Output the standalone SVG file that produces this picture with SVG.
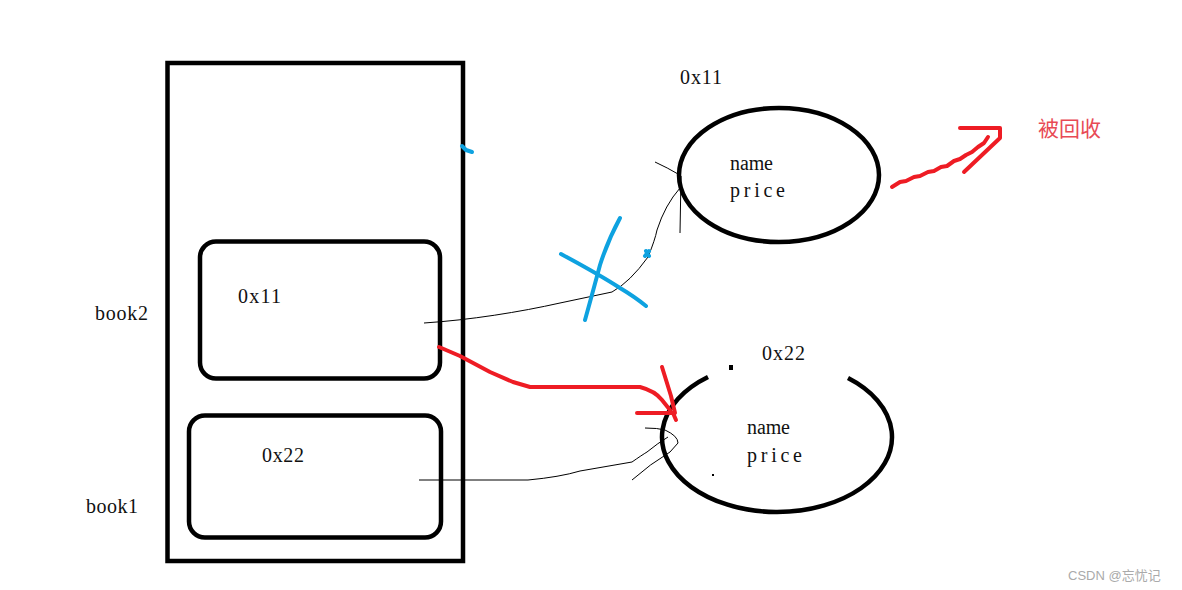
<svg xmlns="http://www.w3.org/2000/svg" width="1182" height="590" viewBox="0 0 1182 590">
<style>
.t{font-family:"Liberation Serif","Noto Sans CJK SC",serif;font-size:20px;fill:#111}
.thick{fill:none;stroke:#000;stroke-width:4.5}
.thin{fill:none;stroke:#000;stroke-width:1}
.red{fill:none;stroke:#ee1c24;stroke-width:4;stroke-linecap:round;stroke-linejoin:round}
.blue{fill:none;stroke:#0ea2e0;stroke-width:4;stroke-linecap:round;stroke-linejoin:round}
</style>
<rect width="1182" height="590" fill="#fff"/>
<g id="stack">
<rect class="thick" x="167.5" y="63" width="295.5" height="498"/>
<text class="t" x="95" y="320" textLength="53" lengthAdjust="spacing" fill="#2a1040">book2</text>
<text class="t" x="86" y="513" textLength="52" lengthAdjust="spacing">book1</text>
</g>
<g id="book2">
<rect class="thick" x="200" y="241.5" width="240" height="137" rx="16"/>
<text class="t" x="238" y="303" textLength="43" lengthAdjust="spacing">0x11</text>
</g>
<g id="book1">
<rect class="thick" x="189" y="415.5" width="252" height="122" rx="16"/>
<text class="t" x="262" y="462" textLength="42" lengthAdjust="spacing">0x22</text>
</g>
<g id="obj1">
<ellipse class="thick" cx="779" cy="175" rx="100" ry="67"/>
<text class="t" x="680" y="84" textLength="42" lengthAdjust="spacing">0x11</text>
<text class="t" x="730" y="170" textLength="43" lengthAdjust="spacing">name</text>
<text class="t" x="730" y="197" textLength="55" lengthAdjust="spacing">price</text>
</g>
<g id="obj2">
<path class="thick" d="M708 377 A115 75 0 1 0 848 378"/>
<rect x="729" y="365" width="4" height="5" fill="#000"/>
<rect x="712" y="474" width="2" height="2" fill="#000"/>
<text class="t" x="762" y="360" textLength="43" lengthAdjust="spacing">0x22</text>
<text class="t" x="747" y="434" textLength="43" lengthAdjust="spacing">name</text>
<text class="t" x="747" y="462" textLength="55" lengthAdjust="spacing">price</text>
</g>
<g id="recycled">
<text x="1038" y="136" font-family="'Noto Sans CJK SC',sans-serif" font-size="21" fill="#e84a55">被回收</text>
</g>
<g id="connectors">
<path class="thin" d="M424 323 C470 320 520 312 560 303 L612 292 Q630 282 648 257 Q655 240 657 230 Q665 205 680 188"/>
<path class="thin" d="M655 162 Q668 168 678 174 M681 176 L680 233"/>
<path class="thin" d="M419 480 L528 480 Q560 477 580 471 L632 462 Q642 455 647 452 Q658 443 668 437"/>
<path class="thin" d="M645 428 Q658 428 665 430 Q678 436 678 443 L670 452 Q650 464 632 480"/>
<path class="blue" d="M561 254 Q600 275 620 288 Q635 297 646 306"/>
<path class="blue" d="M620 218 Q608 240 600 265 Q592 295 585 320"/>
<path class="blue" d="M646 251 L649 256 M645 256 L649 251" stroke-width="1.2"/>
<path class="blue" d="M462 146 L466 150 L472 152" stroke-width="1.5"/>
<path class="red" d="M439 347 L460 356 L490 372 L513 382 L530 387 L640 387 Q655 391 662 400 L670 410"/>
<path class="red" d="M662 367 L671 396 L675 413 L637 413 M673 413 L676 420"/>
<path class="red" d="M892 187 L900 182 L906 181 L914 177 L920 176 L928 172 L934 171 L941 167 L947 166 L954 161 L960 159 L966 155 L972 152 L978 147 L984 143 L988 137"/>
<path class="red" d="M960 128 L1000 128 L1000 138 L964 172"/>
</g>
<text x="1068" y="580" font-family="'Liberation Sans','Noto Sans CJK SC',sans-serif" font-size="13" fill="#aaa">CSDN @忘忧记</text>
</svg>
